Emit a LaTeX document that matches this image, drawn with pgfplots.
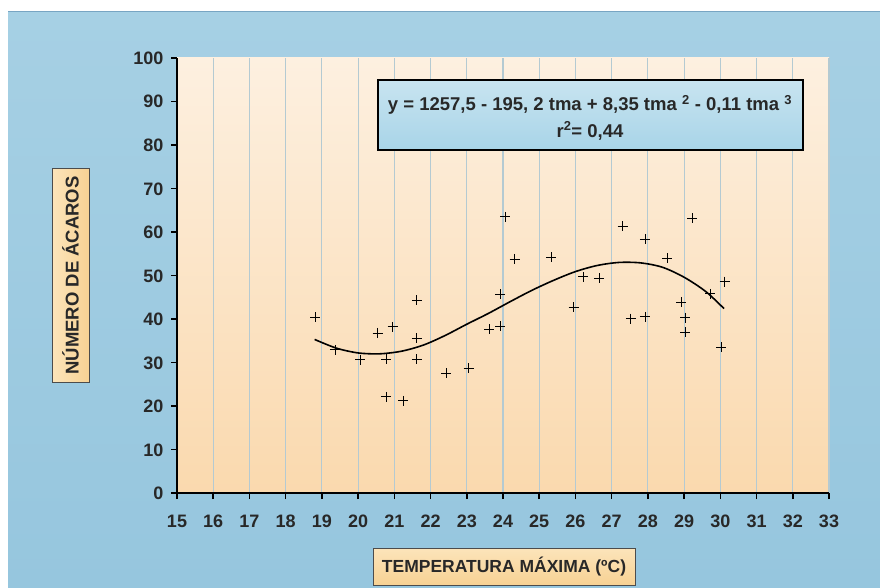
\documentclass[border=0pt]{standalone}
\usepackage{pgfplots}
\pgfplotsset{compat=1.18}
\usepackage{fontspec}
\setmainfont{Liberation Sans}
\definecolor{bgtop}{RGB}{166,208,228}
\definecolor{bgmid}{RGB}{222,236,240}
\definecolor{bgbot}{RGB}{150,198,222}
\definecolor{frameline}{RGB}{120,165,195}
\definecolor{plottop}{RGB}{253,240,224}
\definecolor{plotbot}{RGB}{250,217,174}
\definecolor{gridc}{RGB}{180,202,210}
\definecolor{tickc}{RGB}{40,40,40}
\definecolor{eqtop}{RGB}{200,228,240}
\definecolor{eqbot}{RGB}{168,212,232}
\definecolor{labtop}{RGB}{252,228,186}
\definecolor{labbot}{RGB}{247,210,148}
\begin{document}
\begin{tikzpicture}[x=1pt,y=1pt]
\useasboundingbox (0,0) rectangle (880,587);
\fill[white] (0,0) rectangle (880,587);
\shade[top color=bgtop, middle color=bgmid, bottom color=bgbot] (8,0) rectangle (880,575);
\draw[frameline, line width=1pt] (8,575) -- (880,575);
\begin{axis}[
  at={(177pt,94pt)}, anchor=south west,
  scale only axis, width=652pt, height=435pt,
  xmin=15, xmax=33, ymin=0, ymax=100,
  xtick={15,...,33}, ytick={0,10,...,100},
  axis x line*=bottom, axis y line*=left,
  axis line style={line width=2pt, -},
  tick style={line width=1.5pt, black},
  major tick length=6pt, tick align=outside,
  xmajorgrids, grid style={line width=1.2pt, gridc},
  axis background/.style={top color=plottop, bottom color=plotbot},
  ticklabel style={font=\fontsize{18}{18}\selectfont\bfseries, text=tickc, text height=13pt, text depth=0pt},
  xticklabel style={yshift=-12pt},
  yticklabel style={xshift=-4pt},
  /pgf/number format/assume math mode=true,
  clip=false,
]
\addplot[black, line width=1.6pt, smooth] coordinates {
(18.8,35.3) (19.4,33.3) (20.0,32.2) (20.6,32.0) (21.2,32.6) (21.8,34.0)
(22.4,36.2) (23.0,38.8) (23.6,41.3) (24.2,44.0) (24.8,46.6) (25.4,48.9)
(26.0,50.9) (26.6,52.3) (27.2,53.0) (27.8,52.9) (28.4,51.9) (29.0,49.6)
(29.6,46.3) (30.1,42.4)
};
\addplot[only marks, mark=+, mark size=5pt, black, mark options={line width=0.8pt}] coordinates {
(18.81,40.4) (19.36,32.9) (20.06,30.6) (20.54,36.8) (20.77,30.8) (20.95,38.2)
(20.77,22.1) (21.25,21.2) (21.62,44.3) (21.62,35.6) (21.62,30.8) (22.43,27.5)
(23.05,28.7) (23.62,37.6) (23.92,38.3) (23.92,45.7) (24.06,63.5) (24.32,53.8)
(25.33,54.2) (25.95,42.7) (26.22,49.7) (26.66,49.4) (27.30,61.3) (27.92,58.3)
(27.53,40.1) (27.92,40.5) (28.54,54.0) (28.92,43.9) (29.03,40.3) (29.03,37.0)
(29.22,63.2) (29.72,45.8) (30.12,48.6) (30.03,33.5)
};
\end{axis}
% equation box
\shade[top color=eqtop, bottom color=eqbot] (378,437) rectangle (803,507);
\draw[black, line width=1.2pt] (378,437) rectangle (803,507);
\node[font=\fontsize{18.5}{18.5}\selectfont\bfseries, text=tickc] at (590,482)
  {y = 1257,5 - 195, 2 tma + 8,35 tma \textsuperscript{2} - 0,11 tma \textsuperscript{3}};
\node[font=\fontsize{18.5}{18.5}\selectfont\bfseries, text=tickc] at (590,456)
  {r\textsuperscript{2}= 0,44};
% y label box
\shade[left color=labtop, right color=labbot] (52,205) rectangle (89,418);
\draw[black!70, line width=1pt] (52,205) rectangle (89,418);
\node[rotate=90, font=\fontsize{18.5}{18.5}\selectfont\bfseries, text=tickc] at (70.5,311.5) {NÚMERO DE ÁCAROS};
% x label box
\shade[top color=labtop, bottom color=labbot] (373,2) rectangle (635,39);
\draw[black!70, line width=1pt] (373,2) rectangle (635,39);
\node[font=\fontsize{17.5}{17.5}\selectfont\bfseries, text=tickc] at (504,20) {TEMPERATURA MÁXIMA (ºC)};
\end{tikzpicture}
\end{document}
